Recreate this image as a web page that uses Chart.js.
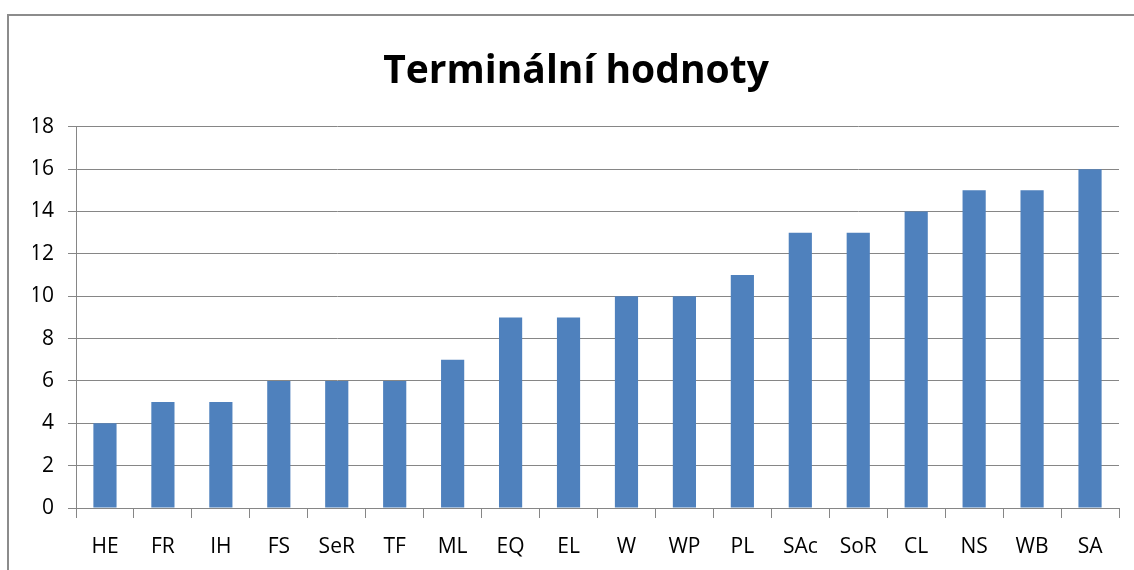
<!DOCTYPE html>
<html>
<head>
<meta charset="utf-8">
<script src="https://cdn.jsdelivr.net/npm/chart.js@4/dist/chart.umd.min.js"></script>
<style>
    body { margin: 0; background: #fff; overflow: hidden; }
    #frame { position: absolute; left: 7px; top: 14px; width: 1300px; height: 700px; border: 2px solid #8c8c8c; }
    #wrap { position: absolute; left: 0; top: 0; width: 1134px; height: 570px; }
</style>
</head>
<body>
<div id="frame"></div>
<div id="wrap"><canvas id="chart"></canvas></div>
<script>
// Terminální hodnoty - data
const categories = ["HE", "FR", "IH", "FS", "SeR", "TF", "ML", "EQ", "EL", "W", "WP", "PL", "SAc", "SoR", "CL", "NS", "WB", "SA"];
const values = [4, 5, 5, 6, 6, 6, 7, 9, 9, 10, 10, 11, 13, 13, 14, 15, 15, 16];
const yMin = 0, yMax = 18, yStep = 2;

const gridColor = "#868686";
const fontFamily = "'Open Sans', sans-serif";

const ctx = document.getElementById("chart").getContext("2d");
let chart = new Chart(ctx, {
    type: "bar",
    data: {
        labels: categories,
        datasets: [{ data: values, backgroundColor: "#4f81bd", barPercentage: 0.4, categoryPercentage: 1.0 }]
    },
    options: {
        responsive: true,
        maintainAspectRatio: false,
        animation: false,
        // left padding pushes the title centre to the right, y width keeps the plot at x=76
        layout: { padding: { top: 22, right: 15, left: 33, bottom: 0 } },
        plugins: {
            legend: { display: false },
            tooltip: { enabled: false },
            title: {
                display: true,
                text: "Terminální hodnoty",
                color: "#000",
                font: { family: fontFamily, size: 39, weight: "bold" },
                padding: { top: 26, bottom: 32 }
            }
        },
        scales: {
            x: {
                grid: { display: true, drawOnChartArea: false, drawTicks: true, tickLength: 10, color: gridColor, offset: true },
                border: { display: true, color: gridColor, width: 1 },
                ticks: { color: "#000", font: { family: fontFamily, size: 21 }, padding: 16, maxRotation: 0, autoSkip: false },
                afterFit: scale => { scale.height = 62; }
            },
            y: {
                min: yMin,
                max: yMax,
                grid: { color: gridColor, tickLength: 8, drawTicks: true },
                border: { display: true, color: gridColor, width: 1 },
                ticks: { stepSize: yStep, color: "#000", font: { family: fontFamily, size: 21 }, padding: 14 },
                afterFit: scale => { scale.width = 43; }
            }
        }
    }
});
</script>
</body>
</html>
